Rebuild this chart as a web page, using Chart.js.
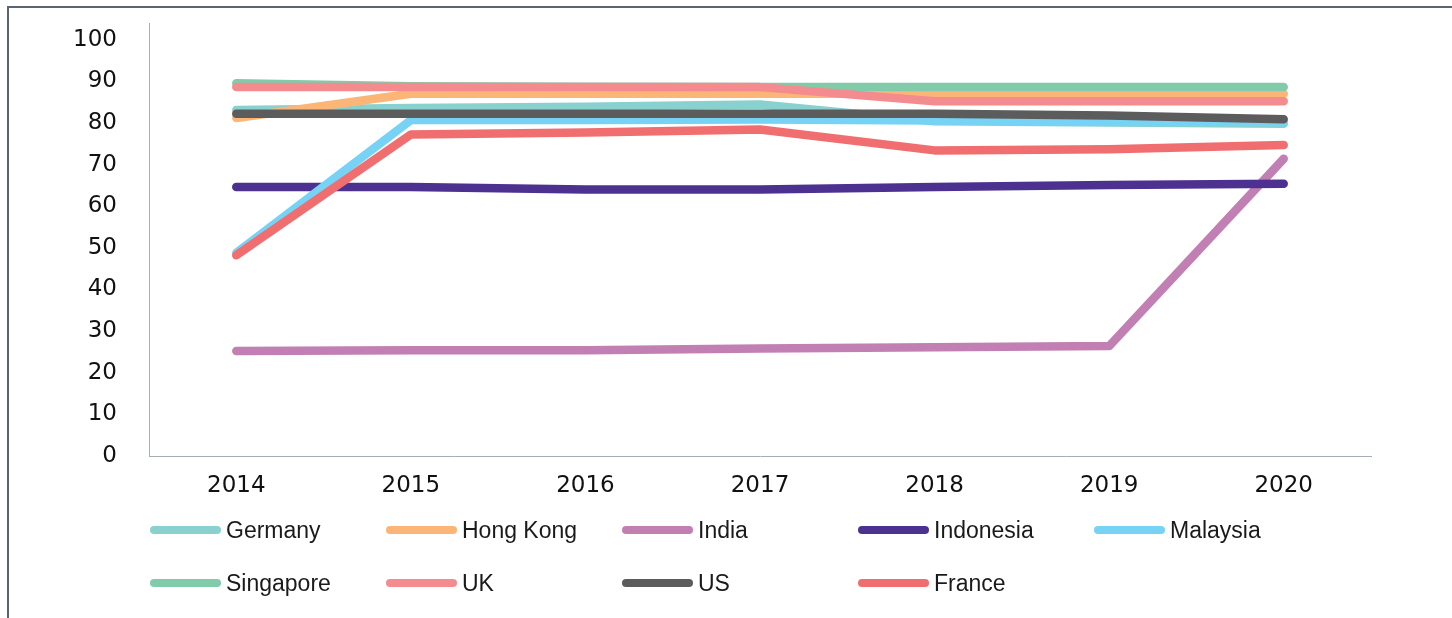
<!DOCTYPE html>
<html>
<head>
<meta charset="utf-8">
<script src="https://cdn.jsdelivr.net/npm/chart.js@4/dist/chart.umd.min.js"></script>
<style>
  body { margin: 0; background: #fff; width: 1452px; height: 618px; overflow: hidden; position: relative; }
  #frame { position: absolute; left: 7px; top: 6px; width: 1500px; height: 700px; border-left: 2px solid #5b6571; border-top: 2px solid #5b6571; }
  #chartBox { position: absolute; left: 0; top: 0; width: 1452px; height: 510px; }
  #legend { position: absolute; left: 0; top: 0; width: 1452px; height: 618px; }
  .item { position: absolute; height: 30px; display: flex; align-items: center; white-space: nowrap; }
  .swatch { width: 71px; height: 8px; border-radius: 4px; margin-right: 5px; }
  .label { font-family: "Liberation Sans", Arial, sans-serif; font-size: 23px; color: #1a1a1a; }
</style>
</head>
<body>
<div id="frame"></div>
<div id="chartBox"><canvas id="chart"></canvas></div>
<div id="legend"></div>
<script>
const years = ['2014', '2015', '2016', '2017', '2018', '2019', '2020'];
const yTicks = [0, 10, 20, 30, 40, 50, 60, 70, 80, 90, 100];

const germany   = [83.1, 83.6, 83.9, 84.4, 80.4, 80.1, 79.8];
const hongKong  = [81.2, 87.0, 87.0, 87.0, 87.0, 87.0, 87.0];
const india     = [25.2, 25.4, 25.4, 25.8, 26.1, 26.4, 71.4];
const indonesia = [64.6, 64.6, 64.0, 64.0, 64.6, 65.1, 65.4];
const malaysia  = [48.8, 80.7, 80.7, 80.8, 80.6, 80.4, 80.2];
const singapore = [89.5, 88.8, 88.7, 88.6, 88.6, 88.6, 88.6];
const uk        = [88.6, 88.6, 88.6, 88.6, 85.2, 85.2, 85.2];
const us        = [82.2, 82.2, 82.2, 82.2, 82.2, 81.8, 80.9];
const france    = [48.2, 77.2, 77.7, 78.4, 73.4, 73.7, 74.7];

const seriesNames = ['Germany', 'Hong Kong', 'India', 'Indonesia', 'Malaysia', 'Singapore', 'UK', 'US', 'France'];
const seriesData = [germany, hongKong, india, indonesia, malaysia, singapore, uk, us, france];
const seriesColors = ['#88d1cf', '#fbb677', '#c27fb4', '#4d3190', '#77d3f5', '#81cbaa', '#f48c8f', '#5c5c5c', '#f06e70'];

const axisColor = '#a6adb5';
const tickFont = { family: '"DejaVu Sans", Verdana, sans-serif', size: 23 };

const datasets = seriesNames.map((name, i) => ({
  label: name,
  data: seriesData[i],
  borderColor: seriesColors[i],
  backgroundColor: seriesColors[i],
  borderWidth: 8.5,
  borderCapStyle: 'round',
  borderJoinStyle: 'round',
  pointRadius: 0,
  tension: 0,
  fill: false,
  order: seriesNames.length - i, // later series on top, like the original
}));

new Chart(document.getElementById('chart'), {
  type: 'line',
  data: { labels: years, datasets: datasets },
  options: {
    responsive: true,
    maintainAspectRatio: false,
    animation: false,
    layout: { padding: { top: 23, right: 81, left: 0, bottom: 0 } },
    plugins: { legend: { display: false }, tooltip: { enabled: false } },
    scales: {
      x: {
        offset: true,
        grid: { display: false, drawTicks: false },
        border: { display: true, color: axisColor, width: 1 },
        ticks: { font: tickFont, color: '#111', padding: 16, maxRotation: 0 },
        afterFit: (s) => { s.height = 54; },
      },
      y: {
        min: 0,
        max: 104,
        afterBuildTicks: (s) => { s.ticks = yTicks.map(v => ({ value: v })); },
        grid: { display: false, drawTicks: false },
        border: { display: true, color: axisColor, width: 1 },
        ticks: { font: tickFont, color: '#111', padding: 32 },
        afterFit: (s) => {
          s.width = 149;
          // tick padding is only meant horizontally here
          s.paddingTop = 0;
          s.paddingBottom = 0;
        },
      },
    },
  },
});

// legend, 5 columns x 2 rows like the original
const legendDiv = document.getElementById('legend');
seriesNames.forEach((name, i) => {
  const col = i % 5;
  const row = Math.floor(i / 5);
  const item = document.createElement('div');
  item.className = 'item';
  item.style.left = (150 + col * 236) + 'px';
  item.style.top = (515 + row * 53) + 'px';
  const sw = document.createElement('div');
  sw.className = 'swatch';
  sw.style.background = seriesColors[i];
  const lb = document.createElement('span');
  lb.className = 'label';
  lb.textContent = name;
  item.appendChild(sw);
  item.appendChild(lb);
  legendDiv.appendChild(item);
});
</script>
</body>
</html>
